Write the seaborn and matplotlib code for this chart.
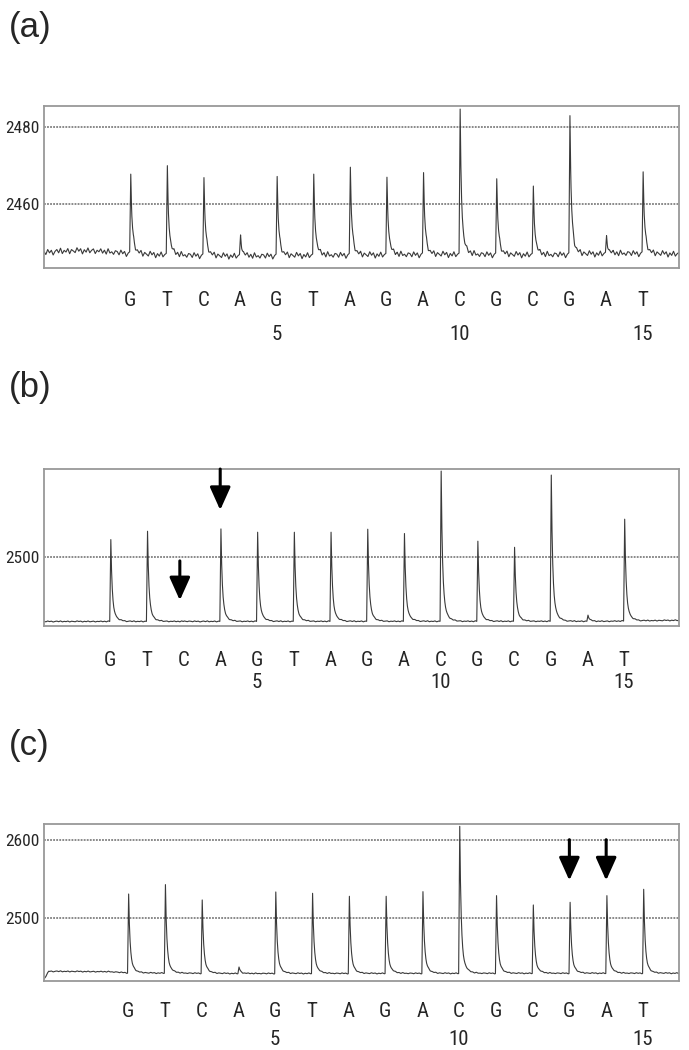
import numpy as np
import pandas as pd
import matplotlib
matplotlib.use("Agg")
import matplotlib.pyplot as plt
from matplotlib import font_manager
import seaborn as sns

# dispensation order and the position numbers under it
dispensation = ["G", "T", "C", "A", "G", "T", "A", "G", "A", "C", "G", "C", "G", "A", "T"]
position_numbers = [5, 10, 15]

# peak tops
peaks_a = [2467.6, 2470.0, 2466.7, 2452.0, 2467.0, 2467.8, 2469.4, 2467.0,
           2468.0, 2484.7, 2466.4, 2464.7, 2482.8, 2451.8, 2468.2]
peaks_b = [2517.2, 2525.5, 2436.6, 2527.8, 2524.5, 2524.5, 2524.5, 2527.5,
           2523.2, 2585.1, 2515.6, 2509.6, 2581.1, 2442.4, 2537.4]
peaks_c = [2530.6, 2542.6, 2523.0, 2437.4, 2533.2, 2531.5, 2527.7, 2527.7,
           2533.6, 2617.0, 2528.5, 2516.6, 2520.0, 2528.5, 2536.6]

# baseline level (x in dispensation units, signal)
base_x_a = [-1.35, -0.8, 0.0, 0.9, 1.5, 3.5, 4.5, 6.5, 9.5, 12.5, 14.5, 16.0]
base_a = [2447.4, 2447.8, 2447.9, 2447.2, 2446.9, 2446.5, 2446.5, 2446.7,
          2446.9, 2446.8, 2447.2, 2447.0]
base_x_b = [-0.8, 14.5, 16.5]
base_b = [2436.0, 2436.2, 2437.2]
base_x_c = [-1.28, -1.15, 0.5, 1.0, 4.0, 16.0]
base_c = [2422.0, 2432.0, 2431.5, 2430.0, 2429.2, 2429.6]

# small wiggle pattern of the detector noise (relative units)
ripple = [0.3, -0.6, 0.8, -0.2, 0.5, -0.9, 0.1, 0.6, -0.4, 0.9, -0.7, 0.2,
          -0.3, 0.7, -0.8, 0.4, 0.0, -0.5, 0.9, -0.1, 0.6, -0.9, 0.3, -0.4,
          0.8, -0.6, 0.1, 0.5, -0.8, 0.2, -0.2, 0.7, -0.5, 0.4, -0.7, 0.9,
          -0.3, 0.1, -0.6, 0.5]

# arrows marking positions (x, top, tip)
arrows_b = [(4.0, 2587.0, 2546.4), (2.9, 2496.0, 2457.0)]
arrows_c = [(13.0, 2600.0, 2548.0), (14.0, 2600.0, 2548.0)]

sns.set_style("white")

# look for a narrow sans face for the tick labels
narrow, stretch = "Liberation Sans", "normal"
names = {f.name for f in font_manager.fontManager.ttflist}
for cand in ["Liberation Sans Narrow", "Arial Narrow", "Roboto Condensed",
             "Open Sans Condensed", "Noto Sans Condensed"]:
    if cand in names:
        narrow = cand
        break
else:
    for f in font_manager.fontManager.ttflist:
        if (str(f.stretch) in ("condensed", "semi-condensed")
                and f.style == "normal" and str(f.weight) in ("400", "normal", "regular")
                and f.name in ("Noto Sans", "DejaVu Sans", "Open Sans", "Roboto", "Inter")):
            narrow, stretch = f.name, str(f.stretch)
            break
plt.rcParams["font.family"] = [narrow, "DejaVu Sans"]
plt.rcParams["font.stretch"] = stretch


def trace(peaks, bx, by, xlim, noise):
    x = np.arange(xlim[0], xlim[1], 0.01)
    base = np.interp(x, bx, by)
    n = len(x) // 5 + 2
    rip = np.interp(x, xlim[0] + 0.05 * np.arange(n), np.resize(ripple, n))
    y = base + noise * rip
    for i, p in enumerate(peaks):
        pos = i + 1 + 0.02
        h = p - np.interp(pos, bx, by)
        d = x - pos
        rise = (d > -0.03) & (d <= 0)
        y[rise] += h * (d[rise] + 0.03) / 0.03
        fall = d > 0
        y[fall] += h * (0.8 * np.exp(-d[fall] / 0.035) + 0.2 * np.exp(-d[fall] / 0.11))
    return pd.DataFrame({"x": x, "y": y})


fig = plt.figure(figsize=(6.89, 10.5), dpi=100)

# label, peaks, baseline, xlim, ylim, major, minor, noise, arrows, rect, label y, pads
panels = [
    ("(a)", peaks_a, base_x_a, base_a, (-1.35, 16.0), (2443.4, 2485.5),
     [2460, 2480], [2450, 2470], 0.9, [], [0.0639, 0.7448, 0.9216, 0.1543], 27,
     12.5, 41.0),
    ("(b)", peaks_b, base_x_b, base_b, (-0.8, 16.5), (2431.5, 2587.0),
     [2500], [2450, 2550], 0.6, arrows_b, [0.0639, 0.4038, 0.9216, 0.1495], 387,
     13.5, 33.5),
    ("(c)", peaks_c, base_x_c, base_c, (-1.28, 15.98), (2419.6, 2620.0),
     [2500, 2600], [2450, 2550], 0.8, arrows_c, [0.0639, 0.0657, 0.9216, 0.1495], 746,
     11.0, 35.0),
]

for (label, peaks, bx, by, xlim, ylim, major, minor, noise, arrows, rect, ly,
     pad_letter, pad_num) in panels:
    ax = fig.add_axes(rect)
    df = trace(peaks, bx, by, xlim, noise)
    sns.lineplot(data=df, x="x", y="y", ax=ax, color="#3a3a3a", lw=0.8,
                 estimator=None, sort=False)
    ax.set_xlim(xlim)
    ax.set_ylim(ylim)
    for v in major:
        ax.axhline(v, color="#6a6a6a", lw=1.1, ls=(0, (1.2, 0.8)), zorder=0)
    ax.set_xlabel("")
    ax.set_ylabel("")

    ax.xaxis.remove_overlapping_locs = False
    ax.set_xticks(range(1, len(dispensation) + 1), dispensation)
    ax.set_xticks(position_numbers, [str(n) for n in position_numbers], minor=True)
    ax.tick_params(axis="x", which="major", direction="out", length=4.3, width=1,
                   color="#888888", pad=pad_letter, labelsize=15)
    ax.tick_params(axis="x", which="minor", length=0, pad=pad_num, labelsize=15)

    ax.set_yticks(major, [str(v) for v in major])
    ax.set_yticks(minor, minor=True)
    ax.tick_params(axis="y", which="both", direction="out", length=3, width=1,
                   color="#888888", pad=0.5, labelsize=12.5)
    ax.tick_params(axis="y", which="minor", labelleft=False)

    for sp in ax.spines.values():
        sp.set_color("#999999")
        sp.set_linewidth(1.3)

    for x, top, tip in arrows:
        ax.annotate("", xy=(x, tip), xytext=(x, top),
                    arrowprops=dict(arrowstyle="-|>,head_length=1.0,head_width=0.45",
                                    mutation_scale=14, lw=2.2, color="black",
                                    shrinkA=0, shrinkB=0))

    fig.text(9 / 689, 1 - ly / 1050, label, fontsize=25, va="center", ha="left",
             family=["Liberation Sans", "DejaVu Sans"], stretch="normal")

fig.savefig("out.png", dpi=100)
